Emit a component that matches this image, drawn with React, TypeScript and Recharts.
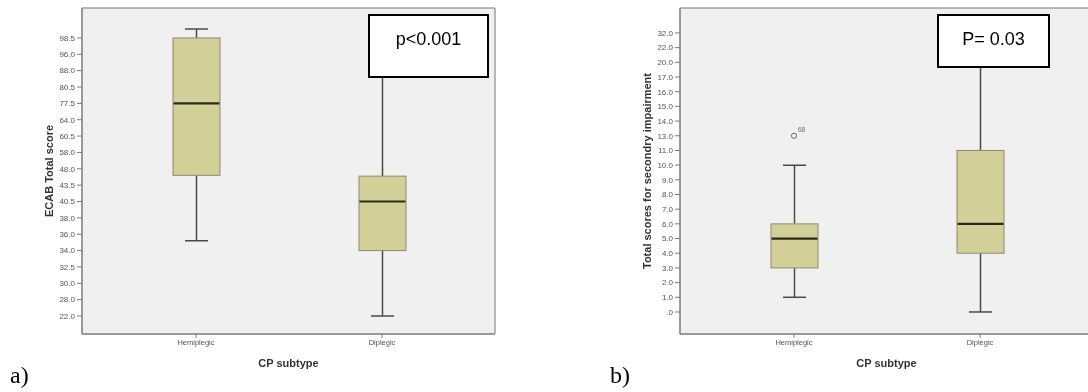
import React from 'react';
import { ComposedChart, Bar, Scatter, XAxis, YAxis, CartesianGrid } from 'recharts';

// ---------- data ----------
const categories = ['Hemiplegic', 'Diplegic'];

// Panel a: ECAB total score, ordinal axis labels (bottom -> top)
const ecabTickLabels = ['22.0', '28.0', '30.0', '32.5', '34.0', '36.0', '38.0', '40.5', '43.5', '48.0', '58.0', '60.5', '64.0', '77.5', '80.5', '88.0', '96.0', '98.5'];
// positions on the ordinal scale (index of tick label)
const ecabMin = [4.6, 0];
const ecabQ1 = [8.6, 4];
const ecabMedian = [13, 7];
const ecabQ3 = [17, 8.55];
const ecabMax = [17.55, 16];
const ecabOutliers: (number | null)[] = [null, null];

// Panel b: total scores for secondary impairment
const secTickLabels = ['.0', '1.0', '2.0', '3.0', '4.0', '5.0', '6.0', '7.0', '8.0', '9.0', '10.0', '11.0', '13.0', '14.0', '15.0', '16.0', '17.0', '20.0', '22.0', '32.0'];
const secMin = [1, 0];
const secQ1 = [3, 4];
const secMedian = [5, 6];
const secQ3 = [6, 11];
const secMax = [10, 17];
const secOutliers: (number | null)[] = [12, null];
const secOutlierIds = ['68', ''];

const pValueA = 'p<0.001';
const pValueB = 'P= 0.03';

// ---------- helpers ----------
const build = (
  mn: number[],
  q1: number[],
  md: number[],
  q3: number[],
  mx: number[],
  out: (number | null)[],
  outIds: string[] = ['', '']
) =>
  categories.map((cat, i) => ({
    cat,
    range: [mn[i], mx[i]],
    min: mn[i],
    q1: q1[i],
    median: md[i],
    q3: q3[i],
    max: mx[i],
    outlier: out[i],
    outlierId: outIds[i],
  }));

const dataA = build(ecabMin, ecabQ1, ecabMedian, ecabQ3, ecabMax, ecabOutliers);
const dataB = build(secMin, secQ1, secMedian, secQ3, secMax, secOutliers, secOutlierIds);

const FONT = '"Liberation Sans", Arial, sans-serif';
const BOX_FILL = '#d3cf98';
const BOX_STROKE = '#8e8b6c';
const WHISKER = '#4a4a4a';
const AXIS = '#7a7a7a';
const FRAME = '#a0a0a0';

const BoxShape = (props: any) => {
  const { x, y, width, height, payload } = props;
  if (payload == null || x == null) return null;
  const top = Math.min(y, y + height);
  const bottom = Math.max(y, y + height);
  const { min, max, q1, median, q3 } = payload;
  const py = (v: number) => bottom - ((bottom - top) * (v - min)) / (max - min);
  const cx = x + width / 2;
  const cap = 11.5;
  return (
    <g>
      <line x1={cx} x2={cx} y1={py(max)} y2={py(q3)} stroke={WHISKER} strokeWidth={1.5} />
      <line x1={cx} x2={cx} y1={py(q1)} y2={py(min)} stroke={WHISKER} strokeWidth={1.5} />
      <line x1={cx - cap} x2={cx + cap} y1={py(max)} y2={py(max)} stroke={WHISKER} strokeWidth={1.5} />
      <line x1={cx - cap} x2={cx + cap} y1={py(min)} y2={py(min)} stroke={WHISKER} strokeWidth={1.5} />
      <rect x={x} y={py(q3)} width={width} height={py(q1) - py(q3)} fill={BOX_FILL} stroke={BOX_STROKE} strokeWidth={1} />
      <line x1={x + 0.5} x2={x + width - 0.5} y1={py(median)} y2={py(median)} stroke="#2b2a1e" strokeWidth={2.2} />
    </g>
  );
};

const OutlierShape = (props: any) => {
  const { cx, cy, payload } = props;
  if (!Number.isFinite(cx) || !Number.isFinite(cy) || payload == null || payload.outlier == null) return null;
  return (
    <g>
      <circle cx={cx} cy={cy} r={2.6} fill="#f0f0f0" stroke="#6a6a6a" strokeWidth={1} />
      <text x={cx + 4} y={cy - 4} fontSize={6.5} fill="#666" fontFamily={FONT}>
        {payload.outlierId}
      </text>
    </g>
  );
};

interface PanelProps {
  data: any[];
  tickLabels: string[];
  domain: [number, number];
  yTitle: string;
  hasOutliers?: boolean;
}

const Panel = ({ data, tickLabels, domain, yTitle, hasOutliers }: PanelProps) => {
  const ticks = tickLabels.map((_, i) => i);
  return (
    <ComposedChart
      width={500}
      height={392}
      data={data}
      margin={{ top: 7, right: 4, bottom: 22, left: 42 }}
    >
      <CartesianGrid fill="#f0f0f0" stroke="none" horizontal={false} vertical={false} />
      <XAxis
        dataKey="cat"
        type="category"
        allowDuplicatedCategory={false}
        padding={{ left: 21, right: 20 }}
        height={36}
        axisLine={{ stroke: AXIS, strokeWidth: 1.5 }}
        tickLine={{ stroke: AXIS }}
        tickSize={4}
        tick={{ fontSize: 7.5, fill: '#555', fontFamily: FONT }}
        interval={0}
        label={{
          value: 'CP subtype',
          position: 'insideBottom',
          offset: 3,
          style: { fontSize: 11, fontWeight: 700, fill: '#333', fontFamily: FONT },
        }}
      />
      <XAxis
        xAxisId="top"
        dataKey="cat"
        type="category"
        allowDuplicatedCategory={false}
        orientation="top"
        height={1}
        tick={false}
        tickLine={false}
        axisLine={{ stroke: FRAME, strokeWidth: 1.5 }}
      />
      <YAxis
        type="number"
        domain={domain}
        ticks={ticks}
        interval={0}
        allowDataOverflow
        width={40}
        tickSize={5}
        axisLine={{ stroke: AXIS, strokeWidth: 1.5 }}
        tickLine={{ stroke: AXIS }}
        tick={{ fontSize: 8, fill: '#555', fontFamily: FONT }}
        tickFormatter={(v: number) => tickLabels[v] ?? ''}
        label={(p: any) => {
          const vb = p.viewBox || { x: 42, y: 8, width: 40, height: 326 };
          const cx = vb.x + 6.5;
          const cy = vb.y + vb.height / 2;
          return (
            <text
              x={cx}
              y={cy}
              transform={`rotate(-90, ${cx}, ${cy})`}
              textAnchor="middle"
              dominantBaseline="central"
              fontSize={11}
              fontWeight={700}
              fill="#333"
              fontFamily={FONT}
            >
              {yTitle}
            </text>
          );
        }}
      />
      <YAxis
        yAxisId="right"
        orientation="right"
        type="number"
        domain={domain}
        width={1}
        tick={false}
        tickLine={false}
        axisLine={{ stroke: FRAME, strokeWidth: 1.5 }}
      />
      <Bar dataKey="range" barSize={47} shape={<BoxShape />} isAnimationActive={false} />
      {hasOutliers && (
        <Scatter dataKey="outlier" shape={<OutlierShape />} isAnimationActive={false} />
      )}
    </ComposedChart>
  );
};

const annStyle: React.CSSProperties = {
  position: 'absolute',
  boxSizing: 'border-box',
  border: '2px solid #000',
  background: '#fff',
  fontFamily: FONT,
  fontSize: 18,
  lineHeight: '21px',
  textAlign: 'center',
  color: '#000',
};

const letterStyle: React.CSSProperties = {
  position: 'absolute',
  fontFamily: '"Liberation Serif", "Times New Roman", serif',
  fontSize: 24,
  lineHeight: '24px',
  color: '#000',
};

export default function App() {
  return (
    <div
      style={{
        position: 'absolute',
        left: 0,
        top: 0,
        width: 1088,
        height: 392,
        overflow: 'hidden',
        background: '#fff',
        willChange: 'transform',
      }}
    >
      <div style={{ position: 'absolute', left: 0, top: 0 }}>
        <Panel data={dataA} tickLabels={ecabTickLabels} domain={[-1.1, 18.83]} yTitle="ECAB Total score" />
      </div>
      <div style={{ position: 'absolute', left: 598, top: 0 }}>
        <Panel
          data={dataB}
          tickLabels={secTickLabels}
          domain={[-1.5, 20.7]}
          yTitle="Total scores for secondry impairment"
          hasOutliers
        />
      </div>
      <div style={{ ...annStyle, left: 368, top: 14, width: 121, height: 64, paddingTop: 13 }}>{pValueA}</div>
      <div style={{ ...annStyle, left: 937, top: 14, width: 113, height: 54, paddingTop: 13 }}>{pValueB}</div>
      <div style={{ ...letterStyle, left: 10, top: 363 }}>a)</div>
      <div style={{ ...letterStyle, left: 610, top: 363 }}>b)</div>
    </div>
  );
}
